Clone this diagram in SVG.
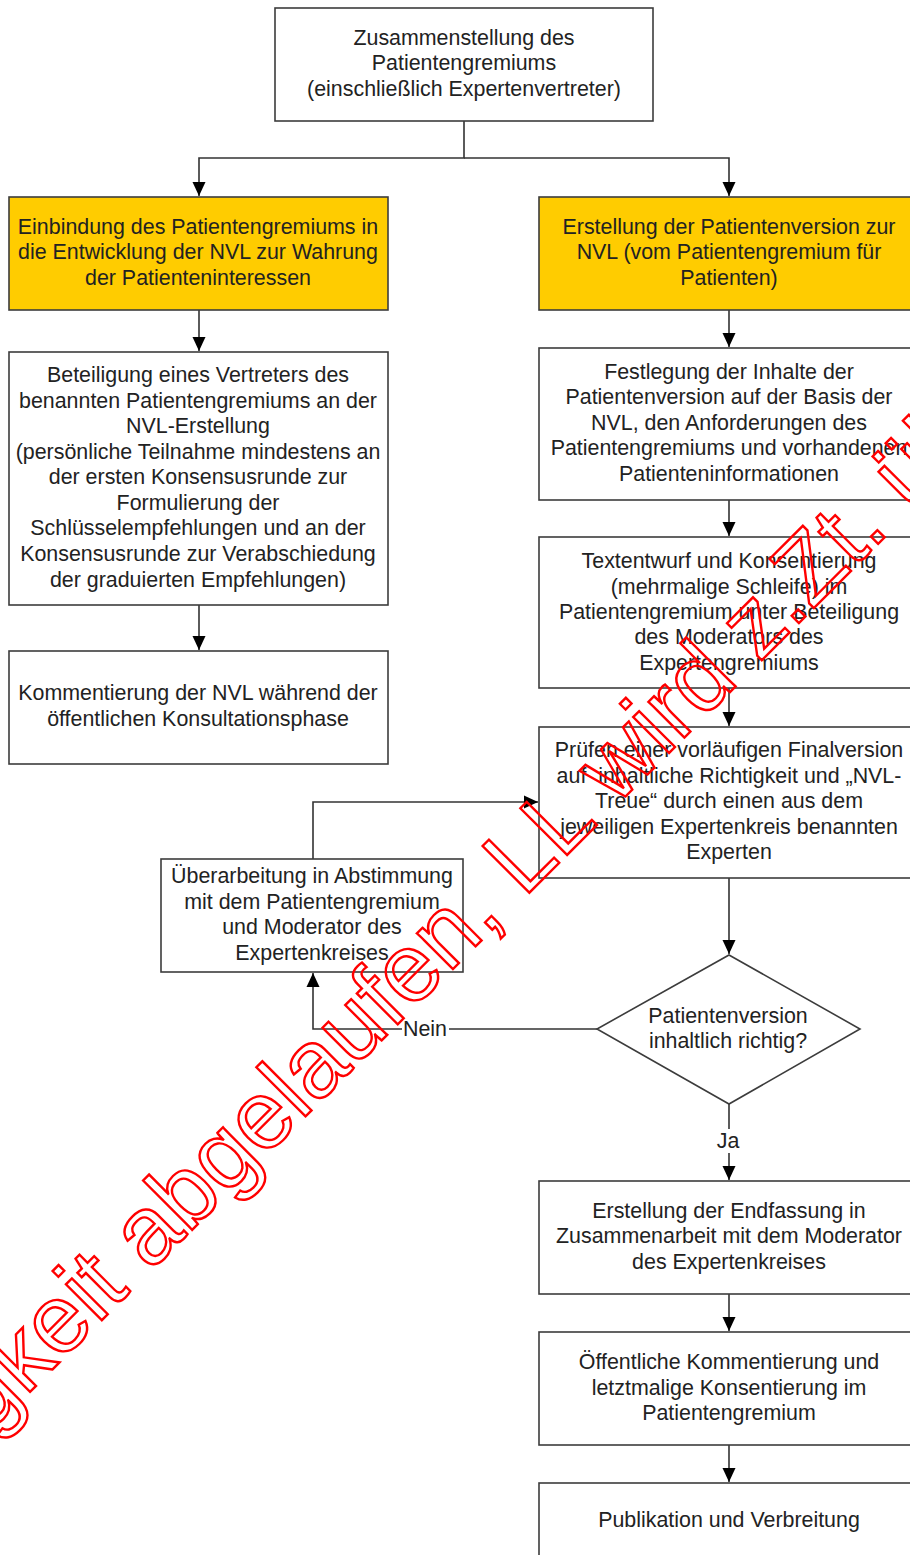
<svg xmlns="http://www.w3.org/2000/svg" width="910" height="1555" viewBox="0 0 910 1555">
<defs>
<marker id="arr" markerUnits="userSpaceOnUse" markerWidth="14" markerHeight="16" refX="14" refY="6.5" orient="auto" viewBox="0 0 14 13">
<path d="M0,0 L14,6.5 L0,13 Z" fill="#000"/>
</marker>
<style>
.box{fill:#fff;stroke:#3c3c3c;stroke-width:1.6}
.yel{fill:#FFCC00;stroke:#3c3c3c;stroke-width:1.6}
.t{font-family:"Liberation Sans",Arial,sans-serif;font-size:21.4px;fill:#222;text-anchor:middle}
.c{fill:none;stroke:#333;stroke-width:1.6}
.lbl{fill:#fff;stroke:none}
.wm{font-family:"Liberation Sans",Arial,sans-serif;font-size:96px;fill:none;stroke:#ff0000;stroke-width:2.4}
</style>
</defs>
<rect width="910" height="1555" fill="#fff"/>

<g id="connectors">
<path class="c" d="M464,121 V158 H199 V196" marker-end="url(#arr)"/>
<path class="c" d="M464,158 H729 V196" marker-end="url(#arr)"/>
<path class="c" d="M199,310 V351" marker-end="url(#arr)"/>
<path class="c" d="M199,605 V650" marker-end="url(#arr)"/>
<path class="c" d="M729,310 V347" marker-end="url(#arr)"/>
<path class="c" d="M729,500 V536" marker-end="url(#arr)"/>
<path class="c" d="M729,688 V726" marker-end="url(#arr)"/>
<path class="c" d="M729,878 V954" marker-end="url(#arr)"/>
<path class="c" d="M597,1029 H313 V973" marker-end="url(#arr)"/>
<path class="c" d="M313,859 V802 H538" marker-end="url(#arr)"/>
<path class="c" d="M729,1104 V1180" marker-end="url(#arr)"/>
<path class="c" d="M729,1294 V1331" marker-end="url(#arr)"/>
<path class="c" d="M729,1445 V1482" marker-end="url(#arr)"/>
<rect class="lbl" x="402" y="1017" width="47" height="24"/>
<text class="t" x="425" y="1036">Nein</text>
<rect class="lbl" x="714" y="1129" width="30" height="24"/>
<text class="t" x="728" y="1148">Ja</text>
</g>

<g id="n-zusammenstellung">
<rect class="box" x="275" y="8" width="378" height="113"/>
<text class="t" x="464" y="45">Zusammenstellung des</text>
<text class="t" x="464" y="70">Patientengremiums</text>
<text class="t" x="464" y="96">(einschließlich Expertenvertreter)</text>
</g>

<g id="n-einbindung">
<rect class="yel" x="9" y="197" width="379" height="113"/>
<text class="t" x="198" y="234">Einbindung des Patientengremiums in</text>
<text class="t" x="198" y="259">die Entwicklung der NVL zur Wahrung</text>
<text class="t" x="198" y="285">der Patienteninteressen</text>
</g>

<g id="n-erstellung-pv">
<rect class="yel" x="539" y="197" width="380" height="113"/>
<text class="t" x="729" y="234">Erstellung der Patientenversion zur</text>
<text class="t" x="729" y="259">NVL (vom Patientengremium für</text>
<text class="t" x="729" y="285">Patienten)</text>
</g>

<g id="n-beteiligung">
<rect class="box" x="9" y="352" width="379" height="253"/>
<text class="t" x="198" y="382">Beteiligung eines Vertreters des</text>
<text class="t" x="198" y="408">benannten Patientengremiums an der</text>
<text class="t" x="198" y="433">NVL-Erstellung</text>
<text class="t" x="198" y="459">(persönliche Teilnahme mindestens an</text>
<text class="t" x="198" y="484">der ersten Konsensusrunde zur</text>
<text class="t" x="198" y="510">Formulierung der</text>
<text class="t" x="198" y="535">Schlüsselempfehlungen und an der</text>
<text class="t" x="198" y="561">Konsensusrunde zur Verabschiedung</text>
<text class="t" x="198" y="587">der graduierten Empfehlungen)</text>
</g>

<g id="n-kommentierung">
<rect class="box" x="9" y="651" width="379" height="113"/>
<text class="t" x="198" y="700">Kommentierung der NVL während der</text>
<text class="t" x="198" y="726">öffentlichen Konsultationsphase</text>
</g>

<g id="n-festlegung">
<rect class="box" x="539" y="348" width="380" height="152"/>
<text class="t" x="729" y="379">Festlegung der Inhalte der</text>
<text class="t" x="729" y="404">Patientenversion auf der Basis der</text>
<text class="t" x="729" y="430">NVL, den Anforderungen des</text>
<text class="t" x="729" y="455">Patientengremiums und vorhandenen</text>
<text class="t" x="729" y="481">Patienteninformationen</text>
</g>

<g id="n-textentwurf">
<rect class="box" x="539" y="537" width="380" height="151"/>
<text class="t" x="729" y="568">Textentwurf und Konsentierung</text>
<text class="t" x="729" y="594">(mehrmalige Schleife) im</text>
<text class="t" x="729" y="619">Patientengremium unter Beteiligung</text>
<text class="t" x="729" y="644">des Moderators des</text>
<text class="t" x="729" y="670">Expertengremiums</text>
</g>

<g id="n-pruefen">
<rect class="box" x="539" y="727" width="380" height="151"/>
<text class="t" x="729" y="757">Prüfen einer vorläufigen Finalversion</text>
<text class="t" x="729" y="783" xml:space="preserve">auf  inhaltliche Richtigkeit und „NVL-</text>
<text class="t" x="729" y="808">Treue“ durch einen aus dem</text>
<text class="t" x="729" y="834">jeweiligen Expertenkreis benannten</text>
<text class="t" x="729" y="859">Experten</text>
</g>

<g id="n-ueberarbeitung">
<rect class="box" x="161" y="859" width="302" height="113"/>
<text class="t" x="312" y="883">Überarbeitung in Abstimmung</text>
<text class="t" x="312" y="909">mit dem Patientengremium</text>
<text class="t" x="312" y="934">und Moderator des</text>
<text class="t" x="312" y="960">Expertenkreises</text>
</g>

<g id="n-entscheidung">
<polygon class="box" points="729,955 860,1029 729,1104 597,1029"/>
<text class="t" x="728" y="1023">Patientenversion</text>
<text class="t" x="728" y="1048">inhaltlich richtig?</text>
</g>

<g id="n-endfassung">
<rect class="box" x="539" y="1181" width="380" height="113"/>
<text class="t" x="729" y="1218">Erstellung der Endfassung in</text>
<text class="t" x="729" y="1243">Zusammenarbeit mit dem Moderator</text>
<text class="t" x="729" y="1269">des Expertenkreises</text>
</g>

<g id="n-oeffentlich">
<rect class="box" x="539" y="1332" width="380" height="113"/>
<text class="t" x="729" y="1369">Öffentliche Kommentierung und</text>
<text class="t" x="729" y="1395">letztmalige Konsentierung im</text>
<text class="t" x="729" y="1420">Patientengremium</text>
</g>

<g id="n-publikation">
<rect class="box" x="539" y="1483" width="380" height="90"/>
<text class="t" x="729" y="1527">Publikation und Verbreitung</text>
</g>

<g id="watermark">
<text class="wm" transform="translate(25,1397) rotate(-45)" x="-250" y="0">Gültigkeit abgelaufen, LL wird z.Zt. überprüft</text>
</g>
</svg>
